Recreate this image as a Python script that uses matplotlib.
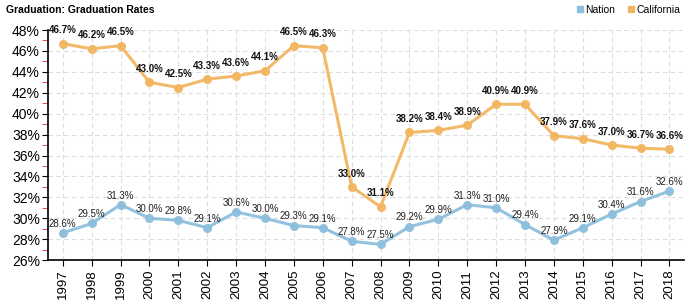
import matplotlib
matplotlib.use("Agg")
import matplotlib.pyplot as plt
from matplotlib.ticker import MultipleLocator, FuncFormatter
from matplotlib.lines import Line2D

plt.rcParams['font.family'] = ['Liberation Sans', 'DejaVu Sans']

years = list(range(1997, 2019))
nation = [28.6, 29.5, 31.3, 30.0, 29.8, 29.1, 30.6, 30.0, 29.3, 29.1, 27.8, 27.5,
          29.2, 29.9, 31.3, 31.0, 29.4, 27.9, 29.1, 30.4, 31.6, 32.6]
california = [46.7, 46.2, 46.5, 43.0, 42.5, 43.3, 43.6, 44.1, 46.5, 46.3, 33.0, 31.1,
              38.2, 38.4, 38.9, 40.9, 40.9, 37.9, 37.6, 37.0, 36.7, 36.6]

c_nation = "#8dbfdd"
c_cal = "#f2b661"

fig = plt.figure(figsize=(7, 3), dpi=100)
ax = fig.add_axes([0.069, 0.133, 0.908, 0.767])

xs = list(range(len(years)))
ax.plot(xs, nation, color=c_nation, lw=2.2, marker="o", ms=5.5, alpha=0.95, zorder=3)
ax.plot(xs, california, color=c_cal, lw=2.2, marker="o", ms=5.5, alpha=0.95, zorder=3)

for x, v in zip(xs, nation):
    ax.annotate(f"{v:.1f}%", (x, v), xytext=(0, 3), textcoords="offset points",
                ha="center", va="bottom", fontsize=7, color="#222222", zorder=4)
for x, v in zip(xs, california):
    ax.annotate(f"{v:.1f}%", (x, v), xytext=(0, 6), textcoords="offset points",
                ha="center", va="bottom", fontsize=7, fontweight="bold", color="#111111", zorder=4)

ax.set_xlim(-0.5, len(years) - 0.5)
ax.set_ylim(26, 48)
ax.set_xticks(xs)
ax.set_xticklabels([str(y) for y in years], rotation=90, fontsize=9.5)
ax.yaxis.set_major_locator(MultipleLocator(2))
ax.yaxis.set_minor_locator(MultipleLocator(1))
ax.yaxis.set_major_formatter(FuncFormatter(lambda v, p: f"{v:.0f}%"))
ax.tick_params(axis="y", labelsize=10, length=4, color="black", pad=2)
ax.tick_params(axis="y", which="minor", length=4, color="#e03030")
ax.tick_params(axis="x", length=4, pad=3)

ax.grid(True, which="major", color="#dddddd", linestyle=(0, (4, 3)), lw=0.8)
ax.set_axisbelow(True)
for s in ["top", "right"]:
    ax.spines[s].set_visible(False)
ax.spines["left"].set_linewidth(1.2)
ax.spines["bottom"].set_linewidth(1.2)

fig.text(0.009, 0.967, "Graduation: Graduation Rates", fontsize=7.5, fontweight="bold",
         ha="left", va="center")

handles = [Line2D([], [], marker="s", color=c_nation, lw=0, ms=4.5),
           Line2D([], [], marker="s", color=c_cal, lw=0, ms=4.5)]
fig.legend(handles, ["Nation", "California"], loc="upper right",
           bbox_to_anchor=(0.985, 1.015), ncol=2, frameon=False, fontsize=7.5,
           handletextpad=0.0, columnspacing=1.0, handlelength=1.0)

fig.savefig("out.png", dpi=100)
